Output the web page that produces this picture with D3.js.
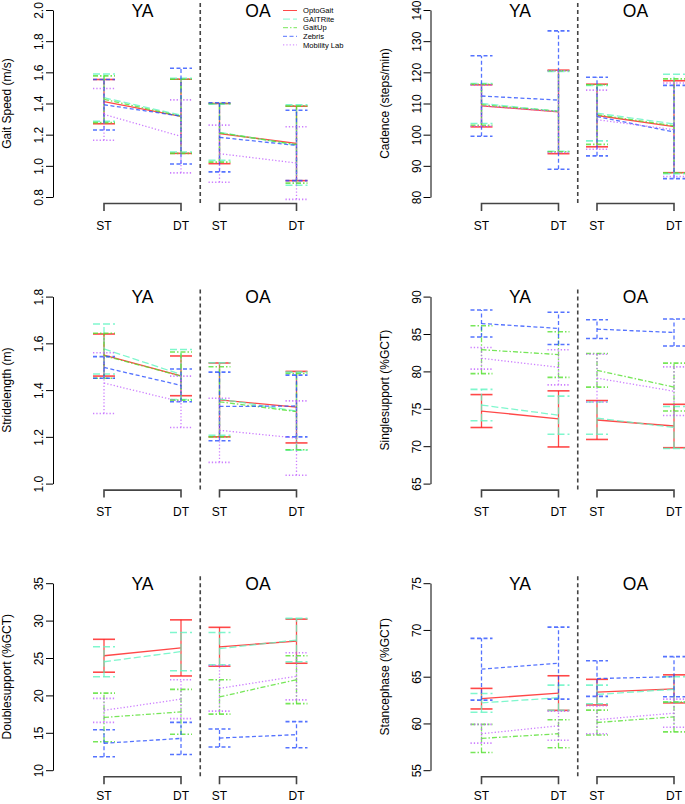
<!DOCTYPE html>
<html><head><meta charset="utf-8">
<script src="https://cdn.jsdelivr.net/npm/d3@7"></script>
<style>body{margin:0;background:#fff;overflow:hidden} svg{display:block}</style>
</head><body>
<script>
// ---------- DATA ----------
const systems = ["OptoGait","GAITRite","GaitUp","Zebris","Mobility Lab"];
const groups = ["YA","OA"];
const conditions = ["ST","DT"];
// columns: YA-ST, YA-DT, OA-ST, OA-DT ; rows: systems
const speedMean = [[1.412,1.318,1.207,1.144],[1.437,1.325,1.215,1.133],[1.427,1.318,1.212,1.136],[1.392,1.319,1.183,1.131],[1.330,1.189,1.078,1.018]];
const speedSD   = [[0.142,0.238,0.193,0.239],[0.152,0.236,0.180,0.258],[0.150,0.238,0.188,0.247],[0.162,0.307,0.222,0.226],[0.166,0.234,0.183,0.233]];
const cadenceMean = [[109.25,107.3,106.15,102.55],[110.0,107.5,106.9,103.45],[109.6,107.5,106.45,102.85],[112.4,111.1,105.8,100.85],[109.3,107.4,104.8,101.6]];
const cadenceSD   = [[6.75,13.4,10.05,14.75],[6.4,12.8,8.9,15.95],[6.6,13.0,9.55,15.05],[12.9,22.2,12.6,14.95],[6.6,13.1,9.5,15.0]];
const strideMean = [[1.550,1.461,1.358,1.327],[1.576,1.467,1.362,1.310],[1.547,1.460,1.350,1.308],[1.497,1.420,1.330,1.332],[1.430,1.350,1.228,1.195]];
const strideSD   = [[0.090,0.085,0.158,0.153],[0.107,0.107,0.155,0.167],[0.096,0.103,0.150,0.163],[0.046,0.070,0.147,0.132],[0.130,0.110,0.137,0.159]];
const singleMean = [[74.7,73.65,73.5,72.7],[75.5,74.15,73.75,72.5],[82.9,82.25,80.15,77.9],[86.4,85.75,85.65,85.2],[81.75,80.55,79.1,77.35]];
const singleSD   = [[2.2,3.75,2.6,2.9],[2.1,2.55,2.15,2.8],[3.2,3.05,2.25,3.2],[1.8,2.15,1.25,1.8],[1.45,2.35,3.2,3.25]];
const doubleMean = [[25.3,26.35,26.5,27.25],[24.5,25.85,26.25,27.4],[17.05,17.8,19.8,22.1],[13.6,14.25,14.3,14.75],[18.0,19.5,20.95,22.55]];
const doubleSD   = [[2.2,3.75,2.6,2.95],[2.0,2.55,2.15,2.9],[3.25,3.0,2.3,3.2],[1.8,2.15,1.2,1.75],[1.6,2.6,3.05,3.15]];
const stanceMean = [[62.65,63.25,63.35,63.7],[62.2,62.75,63.1,63.65],[58.4,58.9,60.1,60.7],[65.8,66.45,64.8,65.0],[58.9,59.75,60.4,61.1]];
const stanceSD   = [[1.1,1.85,1.37,1.5],[1.0,1.35,1.0,1.35],[1.5,1.5,1.33,1.6],[3.3,3.85,1.9,2.15],[1.0,1.55,1.5,1.5]];
const speedTicks = [0.8,1.0,1.2,1.4,1.6,1.8,2.0];
const cadenceTicks = [80,90,100,110,120,130,140];
const strideTicks = [1.0,1.2,1.4,1.6,1.8];
const singleTicks = [65,70,75,80,85,90];
const doubleTicks = [10,15,20,25,30,35];
const stanceTicks = [55,60,65,70,75];
const measureLabels = ["Gait Speed (m/s)","Cadence (steps/min)","Stridelength (m)","Singlesupport (%GCT)","Doublesupport (%GCT)","Stancephase (%GCT)"];

// ---------- STYLE ----------
const colors = ["#ff1a1a","#5ff5c0","#55e030","#2a50ff","#c060ff"];
const dashes = [null,"7,3","5,2,1.5,2","4,2.5","1.3,2"];
const FONT = "'Liberation Sans', Arial, Helvetica, sans-serif";

const W = 685, H = 804;
const colW = 377.5, rowH = 286.6;
const svg = d3.select("body").append("svg").attr("width",W).attr("height",H);

const panels = [
  {mean:speedMean, sd:speedSD, ticks:speedTicks, label:measureLabels[0], fmt:d3.format(".1f"), legend:true},
  {mean:cadenceMean, sd:cadenceSD, ticks:cadenceTicks, label:measureLabels[1], fmt:d3.format("d")},
  {mean:strideMean, sd:strideSD, ticks:strideTicks, label:measureLabels[2], fmt:d3.format(".1f")},
  {mean:singleMean, sd:singleSD, ticks:singleTicks, label:measureLabels[3], fmt:d3.format("d")},
  {mean:doubleMean, sd:doubleSD, ticks:doubleTicks, label:measureLabels[4], fmt:d3.format("d")},
  {mean:stanceMean, sd:stanceSD, ticks:stanceTicks, label:measureLabels[5], fmt:d3.format("d")}
];

const x = d3.scaleLinear().domain([1,2]).range([104,181]);
const pos = (g,c) => 1 + g*1.5 + c;
const capHalf = 11;

panels.forEach((p,i) => {
  const col = i % 2, row = Math.floor(i/2);
  const g = svg.append("g").attr("transform",`translate(${col*colW},${row*rowH})`);
  const y = d3.scaleLinear().domain(d3.extent(p.ticks)).range([197,10]);

  const ax = g.append("g").attr("transform","translate(53,0)")
    .call(d3.axisLeft(y).tickValues(p.ticks).tickFormat(p.fmt).tickSizeOuter(0).tickSizeInner(7));
  ax.select(".domain").attr("stroke","#000").attr("stroke-width",1);
  ax.selectAll(".tick line").attr("stroke","#000");
  ax.selectAll(".tick text").attr("font-family",FONT).attr("font-size",12).attr("fill","#000")
    .attr("transform","translate(-14,0) rotate(-90)").attr("x",0).attr("dy","0.35em")
    .attr("text-anchor","middle").attr("y",0);

  g.append("text").attr("transform","translate(7,103.5) rotate(-90)")
    .attr("text-anchor","middle").attr("dy","0.35em")
    .attr("font-family",FONT).attr("font-size",12).text(p.label);

  g.append("line").attr("x1",x(2.25)).attr("x2",x(2.25)).attr("y1",3).attr("y2",205)
    .attr("stroke","#444").attr("stroke-width",1.6).attr("stroke-dasharray","4,3");

  const labelY = Math.min(229.5, H - 3.5 - row*rowH);
  groups.forEach((gr,gi) => {
    const x0 = x(pos(gi,0)), x1 = x(pos(gi,1));
    g.append("text").attr("x",(x0+x1)/2).attr("y",16.5).attr("text-anchor","middle")
      .attr("font-family",FONT).attr("font-size",17.5).text(gr);
    g.append("path").attr("d",`M${x0},211V203.5H${x1}V211`).attr("fill","none")
      .attr("stroke","#444").attr("stroke-width",1.6);
    conditions.forEach((c,ci) => {
      g.append("text").attr("x",x(pos(gi,ci))).attr("y",labelY).attr("text-anchor","middle")
        .attr("font-family",FONT).attr("font-size",12).text(c);
    });
  });

  systems.forEach((s,si) => {
    const sg = g.append("g").attr("stroke",colors[si]).attr("stroke-opacity",0.8)
      .attr("stroke-width",1.3).attr("fill","none");
    if (dashes[si]) sg.attr("stroke-dasharray",dashes[si]);
    groups.forEach((gr,gi) => {
      const k0 = gi*2, k1 = gi*2+1;
      sg.append("line").attr("x1",x(pos(gi,0))).attr("x2",x(pos(gi,1)))
        .attr("y1",y(p.mean[si][k0])).attr("y2",y(p.mean[si][k1]));
      conditions.forEach((c,ci) => {
        const k = gi*2+ci, xc = x(pos(gi,ci));
        const m = p.mean[si][k], sd = p.sd[si][k];
        sg.append("line").attr("x1",xc).attr("x2",xc).attr("y1",y(m-sd)).attr("y2",y(m+sd));
        [m-sd, m+sd].forEach(v => {
          sg.append("line").attr("x1",xc-capHalf).attr("x2",xc+capHalf)
            .attr("y1",y(v)).attr("y2",y(v)).attr("stroke-width",1.6);
        });
      });
    });
  });

  if (p.legend) {
    const lg = g.append("g");
    systems.forEach((s,si) => {
      const yy = 10.5 + si*8.6;
      const ln = lg.append("line").attr("x1",283).attr("x2",297).attr("y1",yy).attr("y2",yy)
        .attr("stroke",colors[si]).attr("stroke-opacity",0.8).attr("stroke-width",1);
      if (dashes[si]) ln.attr("stroke-dasharray",dashes[si]);
      lg.append("text").attr("x",303).attr("y",yy).attr("dy","0.35em")
        .attr("font-family",FONT).attr("font-size",7.6).text(s);
    });
  }
});
</script>
</body></html>
